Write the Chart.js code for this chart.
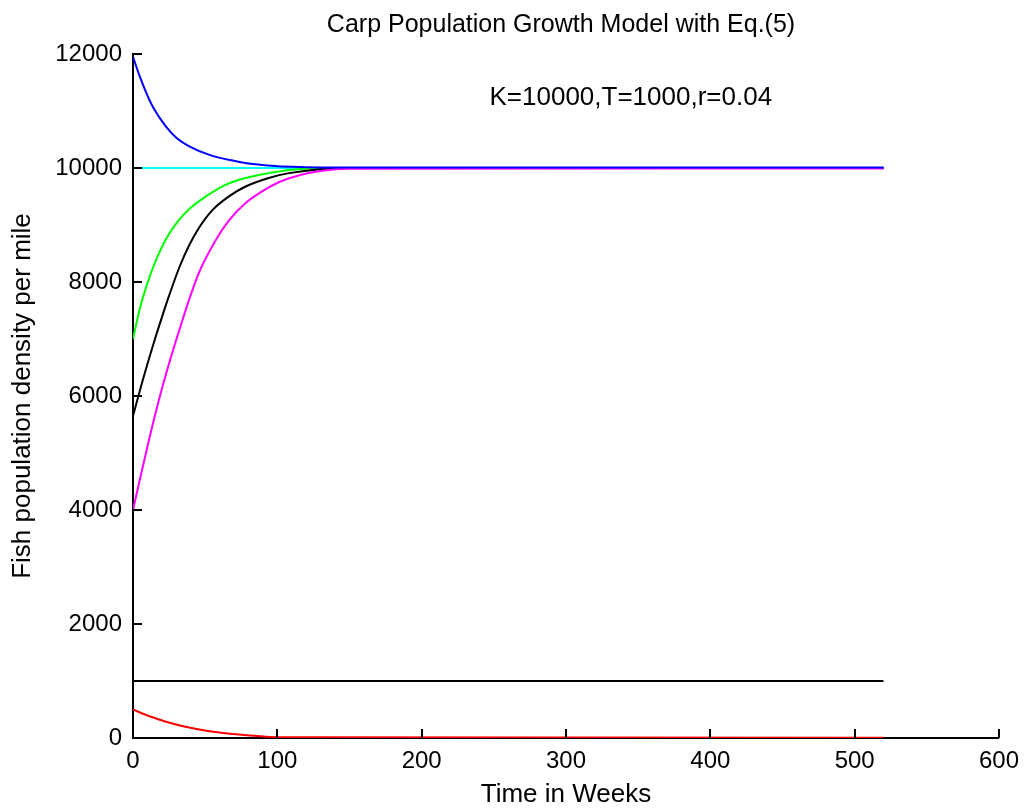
<!DOCTYPE html>
<html>
<head>
<meta charset="utf-8">
<script src="https://cdn.jsdelivr.net/npm/chart.js@4.4.0/dist/chart.umd.min.js"></script>
<style>
  html, body { margin: 0; padding: 0; background: #fff; }
  canvas { display: block; }
</style>
</head>
<body>
<canvas id="carpChart" width="1028" height="810"></canvas>
<script>
// population curves, weeks vs fish per mile
const blueWeeks = [0, 4.5, 9, 14, 23, 30, 39, 53, 69, 80, 96, 110, 130, 520]
const blueFish  = [11950, 11620, 11330, 11060, 10720, 10530, 10380, 10230, 10130, 10080, 10040, 10020, 10010, 10010]

const greenWeeks = [0, 4.5, 10, 16, 23, 30, 39, 51, 64, 78, 94, 108, 136, 520]
const greenFish  = [7000, 7510, 7980, 8390, 8760, 9030, 9280, 9510, 9705, 9825, 9910, 9965, 10000, 10000]

const blackWeeks = [0, 7, 14, 20, 25, 32, 39, 46, 55, 67, 78, 94, 108, 150, 520]
const blackFish  = [5650, 6300, 6900, 7380, 7760, 8250, 8650, 8960, 9260, 9510, 9675, 9825, 9910, 10000, 10000]

const magentaWeeks = [0, 5, 10, 15, 20.5, 26.5, 33, 39, 46, 57.5, 66.5, 78, 90, 101, 114, 131, 150, 520]
const magentaFish  = [4000, 4560, 5110, 5640, 6170, 6700, 7230, 7700, 8180, 8740, 9080, 9385, 9600, 9750, 9865, 9950, 9985, 9990]

const cyanWeeks = [0, 520]
const cyanFish  = [10000, 10000]

const thresholdWeeks = [0, 520]
const thresholdFish  = [1000, 1000]

const redWeeks = [0, 11, 23, 34, 46, 57, 69, 84, 100, 520]
const redFish  = [500, 385, 285, 210, 150, 105, 70, 40, 15, 5]

const xTicks = [0, 100, 200, 300, 400, 500, 600]
const yTicks = [0, 2000, 4000, 6000, 8000, 10000, 12000]

const titleText = 'Carp Population Growth Model with Eq.(5)'
const paramText = 'K=10000,T=1000,r=0.04'
const paramAt = { x: 247, y: 11230 }

const pts = (xs, ys) => xs.map((x, i) => ({ x: x, y: ys[i] }))

const line = (label, xs, ys, color) => ({
  label: label,
  data: pts(xs, ys),
  showLine: true,
  borderColor: color,
  backgroundColor: color,
  borderWidth: 2,
  pointRadius: 0,
  cubicInterpolationMode: 'monotone',
  fill: false
})

// first dataset ends up on top
const datasets = [
  line('N0=12000', blueWeeks, blueFish, '#0000ff'),
  line('N0=4000', magentaWeeks, magentaFish, '#ff00ff'),
  line('N0=5650', blackWeeks, blackFish, '#000000'),
  line('N0=7000', greenWeeks, greenFish, '#00ff00'),
  line('N0=10000', cyanWeeks, cyanFish, '#00ffff'),
  line('T', thresholdWeeks, thresholdFish, '#000000'),
  line('N0=500', redWeeks, redFish, '#ff0000')
]

const FONT = 'Liberation Sans, Arial, sans-serif'

// inward tick marks, title and parameter note
const decorations = {
  id: 'decorations',
  afterDraw(chart) {
    const { ctx, chartArea, scales } = chart
    const len = 9
    ctx.save()
    ctx.strokeStyle = '#000'
    ctx.lineWidth = 2
    ctx.beginPath()
    xTicks.forEach(v => {
      const px = Math.round(scales.x.getPixelForValue(v))
      ctx.moveTo(px, chartArea.bottom)
      ctx.lineTo(px, chartArea.bottom - len)
    })
    yTicks.forEach(v => {
      const py = Math.round(scales.y.getPixelForValue(v))
      ctx.moveTo(chartArea.left, py)
      ctx.lineTo(chartArea.left + len, py)
    })
    ctx.stroke()

    ctx.fillStyle = '#000'
    ctx.textBaseline = 'middle'
    ctx.font = '25px ' + FONT
    ctx.textAlign = 'center'
    ctx.fillText(titleText, 561, 25)

    ctx.font = '26px ' + FONT
    ctx.textAlign = 'left'
    ctx.fillText(paramText, scales.x.getPixelForValue(paramAt.x), scales.y.getPixelForValue(paramAt.y))
    ctx.restore()
  }
}

new Chart(document.getElementById('carpChart'), {
  type: 'scatter',
  data: { datasets: datasets },
  plugins: [decorations],
  options: {
    responsive: false,
    animation: false,
    layout: { padding: { top: 54, right: 25, bottom: 0, left: 0 } },
    plugins: {
      legend: { display: false },
      tooltip: { enabled: false }
    },
    scales: {
      x: {
        type: 'linear',
        min: 0,
        max: 600,
        afterFit: s => { s.height = 72 },
        afterBuildTicks: s => { s.ticks = xTicks.map(v => ({ value: v })) },
        ticks: {
          color: '#000',
          font: { family: FONT, size: 24 },
          padding: 9,
          maxRotation: 0,
          autoSkip: false,
          callback: v => String(v)
        },
        grid: { display: true, drawOnChartArea: false, drawTicks: false },
        border: { display: true, color: '#000', width: 2 },
        title: {
          display: true,
          text: 'Time in Weeks',
          color: '#000',
          font: { family: FONT, size: 26 },
          padding: { top: 0, bottom: 0 }
        }
      },
      y: {
        type: 'linear',
        min: 0,
        max: 12000,
        afterFit: s => { s.width = 133 },
        afterBuildTicks: s => { s.ticks = yTicks.map(v => ({ value: v })) },
        ticks: {
          color: '#000',
          font: { family: FONT, size: 24 },
          padding: 11,
          autoSkip: false,
          callback: v => String(v)
        },
        grid: { display: true, drawOnChartArea: false, drawTicks: false },
        border: { display: true, color: '#000', width: 2 },
        title: {
          display: true,
          text: 'Fish population density per mile',
          color: '#000',
          font: { family: FONT, size: 26 },
          padding: { top: 7, bottom: 0 }
        }
      }
    }
  }
})
</script>
</body>
</html>
